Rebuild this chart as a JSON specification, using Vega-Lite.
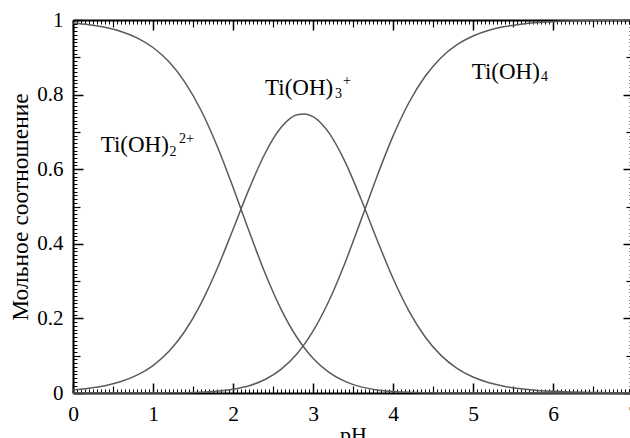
{
  "$schema": "https://vega.github.io/schema/vega-lite/v6.json",
  "width": 560,
  "height": 373,
  "autosize": {"type": "none"},
  "padding": {"left": 73, "top": 20, "right": 0, "bottom": 45},
  "background": "white",
  "config": {
    "font": "Liberation Serif",
    "view": {"stroke": null},
    "axis": {
      "grid": false,
      "domainColor": "#000",
      "tickColor": "#000",
      "labelColor": "#000",
      "titleColor": "#000",
      "labelFontSize": 21,
      "titleFontSize": 22,
      "titleFontWeight": "normal",
      "labelFlush": false,
      "labelOverlap": false,
      "labelBound": false
    },
    "text": {"color": "#000"}
  },
  "datasets": {
    "curves": [
      {"pH": 0.0, "a0": 0.99212, "a1": 0.00788, "a2": 0.0000018},
      {"pH": 0.2, "a0": 0.98756, "a1": 0.01243, "a2": 0.0000044},
      {"pH": 0.4, "a0": 0.98043, "a1": 0.01956, "a2": 0.000011},
      {"pH": 0.6, "a0": 0.96932, "a1": 0.03065, "a2": 0.000027},
      {"pH": 0.8, "a0": 0.95221, "a1": 0.04772, "a2": 0.000067},
      {"pH": 1.0, "a0": 0.92626, "a1": 0.07358, "a2": 0.000165},
      {"pH": 1.2, "a0": 0.88783, "a1": 0.11177, "a2": 0.000397},
      {"pH": 1.4, "a0": 0.83288, "a1": 0.16618, "a2": 0.000934},
      {"pH": 1.6, "a0": 0.75812, "a1": 0.23974, "a2": 0.002137},
      {"pH": 1.8, "a0": 0.66301, "a1": 0.33229, "a2": 0.004694},
      {"pH": 2.0, "a0": 0.55184, "a1": 0.43834, "a2": 0.009813},
      {"pH": 2.2, "a0": 0.43410, "a1": 0.54651, "a2": 0.019391},
      {"pH": 2.4, "a0": 0.32181, "a1": 0.64209, "a2": 0.036107},
      {"pH": 2.6, "a0": 0.22502, "a1": 0.71156, "a2": 0.063418},
      {"pH": 2.8, "a0": 0.14881, "a1": 0.74583, "a2": 0.10535},
      {"pH": 2.9, "a0": 0.11860, "a1": 0.74832, "a2": 0.13307},
      {"pH": 3.0, "a0": 0.09327, "a1": 0.74087, "a2": 0.16586},
      {"pH": 3.2, "a0": 0.05538, "a1": 0.69723, "a2": 0.24739},
      {"pH": 3.4, "a0": 0.03108, "a1": 0.62017, "a2": 0.34875},
      {"pH": 3.6, "a0": 0.016446, "a1": 0.52006, "a2": 0.46350},
      {"pH": 3.8, "a0": 0.008203, "a1": 0.41110, "a2": 0.58070},
      {"pH": 4.0, "a0": 0.003872, "a1": 0.30757, "a2": 0.68856},
      {"pH": 4.2, "a0": 0.001743, "a1": 0.21949, "a2": 0.77877},
      {"pH": 4.4, "a0": 0.000756, "a1": 0.15086, "a2": 0.84838},
      {"pH": 4.6, "a0": 0.000319, "a1": 0.10085, "a2": 0.89883},
      {"pH": 4.8, "a0": 0.000132, "a1": 0.066106, "a2": 0.93376},
      {"pH": 5.0, "a0": 0.000054, "a1": 0.042756, "a2": 0.95719},
      {"pH": 5.2, "a0": 0.000022, "a1": 0.027411, "a2": 0.97257},
      {"pH": 5.4, "a0": 0.0000088, "a1": 0.017472, "a2": 0.98253},
      {"pH": 5.6, "a0": 0.0000035, "a1": 0.011096, "a2": 0.98890},
      {"pH": 5.8, "a0": 0.0000014, "a1": 0.0070297, "a2": 0.99297},
      {"pH": 6.0, "a0": 0.0000006, "a1": 0.0044469, "a2": 0.99555},
      {"pH": 6.2, "a0": 0.0000002, "a1": 0.0028104, "a2": 0.99719},
      {"pH": 6.4, "a0": 0.0000001, "a1": 0.0017751, "a2": 0.99822},
      {"pH": 6.6, "a0": 0.0, "a1": 0.0011208, "a2": 0.99888},
      {"pH": 6.8, "a0": 0.0, "a1": 0.00070745, "a2": 0.99929},
      {"pH": 7.0, "a0": 0.0, "a1": 0.00044648, "a2": 0.99955}
    ],
    "labels": [
      {"x": 0.346, "y": 0.646, "t": "Ti(OH)", "role": "main"},
      {"x": 2.4, "y": 0.799, "t": "Ti(OH)", "role": "main"},
      {"x": 4.984, "y": 0.841, "t": "Ti(OH)", "role": "main"},
      {"x": 1.206, "y": 0.635, "t": "2", "role": "small"},
      {"x": 1.325, "y": 0.670, "t": "2+", "role": "small"},
      {"x": 3.275, "y": 0.791, "t": "3", "role": "small"},
      {"x": 3.375, "y": 0.826, "t": "+", "role": "small"},
      {"x": 5.85, "y": 0.836, "t": "4", "role": "small"}
    ]
  },
  "resolve": {"axis": {"x": "independent", "y": "independent"}},
  "layer": [
    {
      "data": {"name": "curves"},
      "transform": [{"fold": ["a0", "a1", "a2"], "as": ["species", "frac"]}],
      "mark": {"type": "line", "interpolate": "monotone", "color": "#5a5a5a", "strokeWidth": 1.5},
      "encoding": {
        "x": {
          "field": "pH", "type": "quantitative",
          "scale": {"domain": [0, 7], "nice": false, "zero": false},
          "axis": {
            "orient": "bottom", "values": [0, 1, 2, 3, 4, 5, 6, 7], "format": "d",
            "labelFont": "Liberation Serif", "titleFont": "Liberation Serif", "labelFontSize": 21.5,
            "tickSize": -10, "tickWidth": 1.5, "domainWidth": 2, "labelPadding": 20,
            "title": "pH", "titleX": 280, "titleY": 48, "titleBaseline": "alphabetic", "titleAlign": "center"
          }
        },
        "y": {
          "field": "frac", "type": "quantitative",
          "scale": {"domain": [0, 1], "nice": false},
          "axis": {
            "orient": "left", "values": [0, 0.2, 0.4, 0.6, 0.8, 1], "format": "~g",
            "labelFont": "Liberation Serif", "titleFont": "Liberation Serif", "titleFontSize": 23.5,
            "tickSize": -10, "tickWidth": 1.5, "domainWidth": 2, "labelPadding": 20,
            "title": "Мольное соотношение", "titleX": -46, "titleY": 186.5, "titleAngle": -90,
            "titleBaseline": "alphabetic", "titleAlign": "center"
          }
        },
        "detail": {"field": "species"}
      }
    },
    {
      "data": {"name": "curves"},
      "mark": {"type": "point", "opacity": 0},
      "encoding": {
        "x": {
          "field": "pH", "type": "quantitative",
          "scale": {"domain": [0, 7], "nice": false, "zero": false},
          "axis": {"orient": "top", "values": [0, 1, 2, 3, 4, 5, 6, 7], "tickSize": -10, "tickWidth": 1.5, "domainWidth": 2, "labels": false, "title": null}
        },
        "y": {
          "field": "a1", "type": "quantitative",
          "scale": {"domain": [0, 1], "nice": false},
          "axis": {"orient": "right", "values": [0, 0.2, 0.4, 0.6, 0.8, 1], "tickSize": -10, "tickWidth": 1.5, "domainWidth": 2, "labels": false, "title": null}
        }
      }
    },
    {
      "data": {"name": "curves"},
      "mark": {"type": "point", "opacity": 0},
      "encoding": {
        "x": {
          "field": "pH", "type": "quantitative",
          "scale": {"domain": [0, 7], "nice": false, "zero": false},
          "axis": {"orient": "bottom", "values": [0.5, 1.5, 2.5, 3.5, 4.5, 5.5, 6.5], "tickSize": -7, "tickWidth": 1.2, "domain": false, "labels": false, "title": null}
        },
        "y": {
          "field": "a1", "type": "quantitative",
          "scale": {"domain": [0, 1], "nice": false},
          "axis": {"orient": "left", "values": [0.1, 0.3, 0.5, 0.7, 0.9], "tickSize": -7, "tickWidth": 1.2, "domain": false, "labels": false, "title": null}
        }
      }
    },
    {
      "data": {"name": "curves"},
      "mark": {"type": "point", "opacity": 0},
      "encoding": {
        "x": {
          "field": "pH", "type": "quantitative",
          "scale": {"domain": [0, 7], "nice": false, "zero": false},
          "axis": {"orient": "top", "values": [0.5, 1.5, 2.5, 3.5, 4.5, 5.5, 6.5], "tickSize": -7, "tickWidth": 1.2, "domain": false, "labels": false, "title": null}
        },
        "y": {
          "field": "a1", "type": "quantitative",
          "scale": {"domain": [0, 1], "nice": false},
          "axis": {"orient": "right", "values": [0.1, 0.3, 0.5, 0.7, 0.9], "tickSize": -7, "tickWidth": 1.2, "domain": false, "labels": false, "title": null}
        }
      }
    },
    {
      "data": {"name": "curves"},
      "mark": {"type": "point", "opacity": 0},
      "encoding": {
        "x": {
          "field": "pH", "type": "quantitative",
          "scale": {"domain": [0, 7], "nice": false, "zero": false},
          "axis": {"orient": "bottom", "tickSize": -4, "tickWidth": 1, "domain": false, "labels": false, "title": null,
            "values": [0,0.05,0.1,0.15,0.2,0.25,0.3,0.35,0.4,0.45,0.5,0.55,0.6,0.65,0.7,0.75,0.8,0.85,0.9,0.95,1,1.05,1.1,1.15,1.2,1.25,1.3,1.35,1.4,1.45,1.5,1.55,1.6,1.65,1.7,1.75,1.8,1.85,1.9,1.95,2,2.05,2.1,2.15,2.2,2.25,2.3,2.35,2.4,2.45,2.5,2.55,2.6,2.65,2.7,2.75,2.8,2.85,2.9,2.95,3,3.05,3.1,3.15,3.2,3.25,3.3,3.35,3.4,3.45,3.5,3.55,3.6,3.65,3.7,3.75,3.8,3.85,3.9,3.95,4,4.05,4.1,4.15,4.2,4.25,4.3,4.35,4.4,4.45,4.5,4.55,4.6,4.65,4.7,4.75,4.8,4.85,4.9,4.95,5,5.05,5.1,5.15,5.2,5.25,5.3,5.35,5.4,5.45,5.5,5.55,5.6,5.65,5.7,5.75,5.8,5.85,5.9,5.95,6,6.05,6.1,6.15,6.2,6.25,6.3,6.35,6.4,6.45,6.5,6.55,6.6,6.65,6.7,6.75,6.8,6.85,6.9,6.95,7]}
        },
        "y": {
          "field": "a1", "type": "quantitative",
          "scale": {"domain": [0, 1], "nice": false},
          "axis": {"orient": "left", "tickSize": -4, "tickWidth": 1, "domain": false, "labels": false, "title": null,
            "values": [0,0.01,0.02,0.03,0.04,0.05,0.06,0.07,0.08,0.09,0.1,0.11,0.12,0.13,0.14,0.15,0.16,0.17,0.18,0.19,0.2,0.21,0.22,0.23,0.24,0.25,0.26,0.27,0.28,0.29,0.3,0.31,0.32,0.33,0.34,0.35,0.36,0.37,0.38,0.39,0.4,0.41,0.42,0.43,0.44,0.45,0.46,0.47,0.48,0.49,0.5,0.51,0.52,0.53,0.54,0.55,0.56,0.57,0.58,0.59,0.6,0.61,0.62,0.63,0.64,0.65,0.66,0.67,0.68,0.69,0.7,0.71,0.72,0.73,0.74,0.75,0.76,0.77,0.78,0.79,0.8,0.81,0.82,0.83,0.84,0.85,0.86,0.87,0.88,0.89,0.9,0.91,0.92,0.93,0.94,0.95,0.96,0.97,0.98,0.99,1]}
        }
      }
    },
    {
      "data": {"name": "curves"},
      "mark": {"type": "point", "opacity": 0},
      "encoding": {
        "x": {
          "field": "pH", "type": "quantitative",
          "scale": {"domain": [0, 7], "nice": false, "zero": false},
          "axis": {"orient": "top", "tickSize": -4, "tickWidth": 1, "domain": false, "labels": false, "title": null,
            "values": [0,0.05,0.1,0.15,0.2,0.25,0.3,0.35,0.4,0.45,0.5,0.55,0.6,0.65,0.7,0.75,0.8,0.85,0.9,0.95,1,1.05,1.1,1.15,1.2,1.25,1.3,1.35,1.4,1.45,1.5,1.55,1.6,1.65,1.7,1.75,1.8,1.85,1.9,1.95,2,2.05,2.1,2.15,2.2,2.25,2.3,2.35,2.4,2.45,2.5,2.55,2.6,2.65,2.7,2.75,2.8,2.85,2.9,2.95,3,3.05,3.1,3.15,3.2,3.25,3.3,3.35,3.4,3.45,3.5,3.55,3.6,3.65,3.7,3.75,3.8,3.85,3.9,3.95,4,4.05,4.1,4.15,4.2,4.25,4.3,4.35,4.4,4.45,4.5,4.55,4.6,4.65,4.7,4.75,4.8,4.85,4.9,4.95,5,5.05,5.1,5.15,5.2,5.25,5.3,5.35,5.4,5.45,5.5,5.55,5.6,5.65,5.7,5.75,5.8,5.85,5.9,5.95,6,6.05,6.1,6.15,6.2,6.25,6.3,6.35,6.4,6.45,6.5,6.55,6.6,6.65,6.7,6.75,6.8,6.85,6.9,6.95,7]}
        },
        "y": {
          "field": "a1", "type": "quantitative",
          "scale": {"domain": [0, 1], "nice": false},
          "axis": {"orient": "right", "tickSize": -4, "tickWidth": 1, "domain": false, "labels": false, "title": null,
            "values": [0,0.01,0.02,0.03,0.04,0.05,0.06,0.07,0.08,0.09,0.1,0.11,0.12,0.13,0.14,0.15,0.16,0.17,0.18,0.19,0.2,0.21,0.22,0.23,0.24,0.25,0.26,0.27,0.28,0.29,0.3,0.31,0.32,0.33,0.34,0.35,0.36,0.37,0.38,0.39,0.4,0.41,0.42,0.43,0.44,0.45,0.46,0.47,0.48,0.49,0.5,0.51,0.52,0.53,0.54,0.55,0.56,0.57,0.58,0.59,0.6,0.61,0.62,0.63,0.64,0.65,0.66,0.67,0.68,0.69,0.7,0.71,0.72,0.73,0.74,0.75,0.76,0.77,0.78,0.79,0.8,0.81,0.82,0.83,0.84,0.85,0.86,0.87,0.88,0.89,0.9,0.91,0.92,0.93,0.94,0.95,0.96,0.97,0.98,0.99,1]}
        }
      }
    },
    {
      "data": {"name": "labels"},
      "transform": [{"filter": "datum.role === 'main'"}],
      "mark": {"type": "text", "align": "left", "baseline": "alphabetic", "fontSize": 23, "font": "Liberation Serif"},
      "encoding": {
        "x": {"field": "x", "type": "quantitative", "scale": {"domain": [0, 7], "nice": false, "zero": false}, "axis": null},
        "y": {"field": "y", "type": "quantitative", "scale": {"domain": [0, 1], "nice": false}, "axis": null},
        "text": {"field": "t"}
      }
    },
    {
      "data": {"name": "labels"},
      "transform": [{"filter": "datum.role === 'small'"}],
      "mark": {"type": "text", "align": "left", "baseline": "alphabetic", "fontSize": 14, "font": "Liberation Serif"},
      "encoding": {
        "x": {"field": "x", "type": "quantitative", "scale": {"domain": [0, 7], "nice": false, "zero": false}, "axis": null},
        "y": {"field": "y", "type": "quantitative", "scale": {"domain": [0, 1], "nice": false}, "axis": null},
        "text": {"field": "t"}
      }
    }
  ]
}
